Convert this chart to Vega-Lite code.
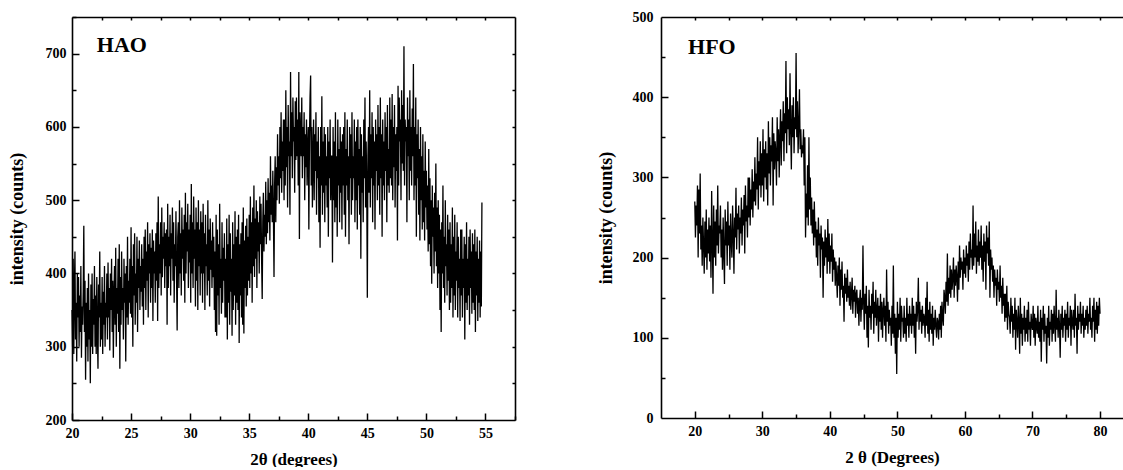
{
"$schema":"https://vega.github.io/schema/vega-lite/v6.json",
"background":"white",
"padding":{"left":8,"top":10,"right":0,"bottom":0},
"spacing":81,
"config":{"view":{"stroke":null},"font":"Liberation Serif",
"axis":{"grid":false,"labelFont":"Liberation Serif","labelFontWeight":"bold","labelFontSize":14,"labelColor":"black","titleFont":"Liberation Serif","titleFontWeight":"bold","titleFontSize":17,"titleColor":"black","domainColor":"black","domainWidth":1.6,"tickColor":"black","tickWidth":1.5,"labelFlush":false,"labelOverlap":false,"labelBound":false}},
"datasets":{
"hao":[
{"a":20,"i":350},{"a":20.05,"i":300},{"a":20.1,"i":420},{"a":20.15,"i":290},{"a":20.2,"i":380},{"a":20.25,"i":430},{"a":20.3,"i":310},{"a":20.35,"i":360},{"a":20.4,"i":280},{"a":20.45,"i":400},{"a":20.5,"i":340},{"a":20.55,"i":395},{"a":20.6,"i":300},{"a":20.65,"i":370},{"a":20.7,"i":320},{"a":20.75,"i":410},{"a":20.8,"i":285},{"a":20.85,"i":355},{"a":20.9,"i":330},{"a":20.95,"i":375},
{"a":21,"i":465},{"a":21.05,"i":320},{"a":21.1,"i":390},{"a":21.15,"i":255},{"a":21.2,"i":360},{"a":21.25,"i":300},{"a":21.3,"i":380},{"a":21.35,"i":280},{"a":21.4,"i":400},{"a":21.45,"i":310},{"a":21.5,"i":350},{"a":21.55,"i":250},{"a":21.6,"i":385},{"a":21.65,"i":300},{"a":21.7,"i":400},{"a":21.75,"i":290},{"a":21.8,"i":365},{"a":21.85,"i":330},{"a":21.9,"i":410},{"a":21.95,"i":300},
{"a":22,"i":370},{"a":22.05,"i":290},{"a":22.1,"i":395},{"a":22.15,"i":320},{"a":22.2,"i":270},{"a":22.25,"i":385},{"a":22.3,"i":340},{"a":22.35,"i":430},{"a":22.4,"i":300},{"a":22.45,"i":360},{"a":22.5,"i":310},{"a":22.55,"i":395},{"a":22.6,"i":290},{"a":22.65,"i":375},{"a":22.7,"i":330},{"a":22.75,"i":410},{"a":22.8,"i":300},{"a":22.85,"i":360},{"a":22.9,"i":340},{"a":22.95,"i":400},
{"a":23,"i":310},{"a":23.05,"i":415},{"a":23.1,"i":340},{"a":23.15,"i":380},{"a":23.2,"i":295},{"a":23.25,"i":400},{"a":23.3,"i":350},{"a":23.35,"i":420},{"a":23.4,"i":320},{"a":23.45,"i":390},{"a":23.5,"i":285},{"a":23.55,"i":370},{"a":23.6,"i":410},{"a":23.65,"i":330},{"a":23.7,"i":435},{"a":23.75,"i":300},{"a":23.8,"i":380},{"a":23.85,"i":345},{"a":23.9,"i":420},{"a":23.95,"i":320},
{"a":24,"i":440},{"a":24.05,"i":270},{"a":24.1,"i":395},{"a":24.15,"i":330},{"a":24.2,"i":430},{"a":24.25,"i":350},{"a":24.3,"i":380},{"a":24.35,"i":310},{"a":24.4,"i":420},{"a":24.45,"i":360},{"a":24.5,"i":400},{"a":24.55,"i":280},{"a":24.6,"i":410},{"a":24.65,"i":340},{"a":24.7,"i":450},{"a":24.75,"i":330},{"a":24.8,"i":390},{"a":24.85,"i":360},{"a":24.9,"i":420},{"a":24.95,"i":345},
{"a":25,"i":463},{"a":25.05,"i":340},{"a":25.1,"i":410},{"a":25.15,"i":300},{"a":25.2,"i":440},{"a":25.25,"i":370},{"a":25.3,"i":455},{"a":25.35,"i":330},{"a":25.4,"i":400},{"a":25.45,"i":360},{"a":25.5,"i":450},{"a":25.55,"i":320},{"a":25.6,"i":420},{"a":25.65,"i":380},{"a":25.7,"i":445},{"a":25.75,"i":350},{"a":25.8,"i":410},{"a":25.85,"i":375},{"a":25.9,"i":440},{"a":25.95,"i":355},
{"a":26,"i":420},{"a":26.05,"i":330},{"a":26.1,"i":450},{"a":26.15,"i":380},{"a":26.2,"i":460},{"a":26.25,"i":350},{"a":26.3,"i":430},{"a":26.35,"i":390},{"a":26.4,"i":470},{"a":26.45,"i":340},{"a":26.5,"i":440},{"a":26.55,"i":400},{"a":26.6,"i":455},{"a":26.65,"i":360},{"a":26.7,"i":435},{"a":26.75,"i":380},{"a":26.8,"i":460},{"a":26.85,"i":335},{"a":26.9,"i":445},{"a":26.95,"i":400},
{"a":27,"i":430},{"a":27.05,"i":360},{"a":27.1,"i":455},{"a":27.15,"i":390},{"a":27.2,"i":470},{"a":27.25,"i":335},{"a":27.3,"i":505},{"a":27.35,"i":380},{"a":27.4,"i":440},{"a":27.45,"i":400},{"a":27.5,"i":470},{"a":27.55,"i":370},{"a":27.6,"i":490},{"a":27.65,"i":395},{"a":27.7,"i":450},{"a":27.75,"i":420},{"a":27.8,"i":470},{"a":27.85,"i":380},{"a":27.9,"i":455},{"a":27.95,"i":410},
{"a":28,"i":460},{"a":28.05,"i":330},{"a":28.1,"i":495},{"a":28.15,"i":380},{"a":28.2,"i":450},{"a":28.25,"i":410},{"a":28.3,"i":480},{"a":28.35,"i":370},{"a":28.4,"i":455},{"a":28.45,"i":420},{"a":28.5,"i":490},{"a":28.55,"i":390},{"a":28.6,"i":470},{"a":28.65,"i":360},{"a":28.7,"i":440},{"a":28.75,"i":410},{"a":28.8,"i":485},{"a":28.85,"i":395},{"a":28.9,"i":322},{"a":28.95,"i":450},
{"a":29,"i":470},{"a":29.05,"i":380},{"a":29.1,"i":500},{"a":29.15,"i":400},{"a":29.2,"i":455},{"a":29.25,"i":370},{"a":29.3,"i":490},{"a":29.35,"i":420},{"a":29.4,"i":460},{"a":29.45,"i":390},{"a":29.5,"i":480},{"a":29.55,"i":360},{"a":29.6,"i":510},{"a":29.65,"i":400},{"a":29.7,"i":470},{"a":29.75,"i":430},{"a":29.8,"i":495},{"a":29.85,"i":380},{"a":29.9,"i":460},{"a":29.95,"i":415},
{"a":30,"i":480},{"a":30.05,"i":360},{"a":30.1,"i":522},{"a":30.15,"i":400},{"a":30.2,"i":470},{"a":30.25,"i":380},{"a":30.3,"i":505},{"a":30.35,"i":420},{"a":30.4,"i":460},{"a":30.45,"i":355},{"a":30.5,"i":490},{"a":30.55,"i":390},{"a":30.6,"i":470},{"a":30.65,"i":350},{"a":30.7,"i":500},{"a":30.75,"i":410},{"a":30.8,"i":460},{"a":30.85,"i":370},{"a":30.9,"i":485},{"a":30.95,"i":400},
{"a":31,"i":470},{"a":31.05,"i":360},{"a":31.1,"i":495},{"a":31.15,"i":400},{"a":31.2,"i":455},{"a":31.25,"i":350},{"a":31.3,"i":480},{"a":31.35,"i":410},{"a":31.4,"i":440},{"a":31.45,"i":370},{"a":31.5,"i":500},{"a":31.55,"i":390},{"a":31.6,"i":460},{"a":31.65,"i":355},{"a":31.7,"i":475},{"a":31.75,"i":405},{"a":31.8,"i":445},{"a":31.85,"i":380},{"a":31.9,"i":470},{"a":31.95,"i":395},
{"a":32,"i":450},{"a":32.05,"i":350},{"a":32.1,"i":430},{"a":32.15,"i":320},{"a":32.2,"i":480},{"a":32.25,"i":315},{"a":32.3,"i":460},{"a":32.35,"i":370},{"a":32.4,"i":440},{"a":32.45,"i":330},{"a":32.5,"i":495},{"a":32.55,"i":380},{"a":32.6,"i":420},{"a":32.65,"i":345},{"a":32.7,"i":470},{"a":32.75,"i":360},{"a":32.8,"i":435},{"a":32.85,"i":390},{"a":32.9,"i":455},{"a":32.95,"i":340},
{"a":33,"i":420},{"a":33.05,"i":340},{"a":33.1,"i":475},{"a":33.15,"i":310},{"a":33.2,"i":440},{"a":33.25,"i":360},{"a":33.3,"i":480},{"a":33.35,"i":330},{"a":33.4,"i":455},{"a":33.45,"i":375},{"a":33.5,"i":420},{"a":33.55,"i":315},{"a":33.6,"i":470},{"a":33.65,"i":350},{"a":33.7,"i":440},{"a":33.75,"i":370},{"a":33.8,"i":485},{"a":33.85,"i":330},{"a":33.9,"i":450},{"a":33.95,"i":360},
{"a":34,"i":460},{"a":34.05,"i":350},{"a":34.1,"i":480},{"a":34.15,"i":305},{"a":34.2,"i":440},{"a":34.25,"i":370},{"a":34.3,"i":455},{"a":34.35,"i":340},{"a":34.4,"i":470},{"a":34.45,"i":330},{"a":34.5,"i":490},{"a":34.55,"i":318},{"a":34.6,"i":445},{"a":34.65,"i":380},{"a":34.7,"i":465},{"a":34.75,"i":355},{"a":34.8,"i":475},{"a":34.85,"i":370},{"a":34.9,"i":450},{"a":34.95,"i":390},
{"a":35,"i":480},{"a":35.05,"i":380},{"a":35.1,"i":505},{"a":35.15,"i":400},{"a":35.2,"i":470},{"a":35.25,"i":360},{"a":35.3,"i":490},{"a":35.35,"i":410},{"a":35.4,"i":520},{"a":35.45,"i":395},{"a":35.5,"i":475},{"a":35.55,"i":420},{"a":35.6,"i":500},{"a":35.65,"i":380},{"a":35.7,"i":485},{"a":35.75,"i":430},{"a":35.8,"i":470},{"a":35.85,"i":400},{"a":35.9,"i":505},{"a":35.95,"i":440},
{"a":36,"i":495},{"a":36.05,"i":420},{"a":36.1,"i":365},{"a":36.15,"i":470},{"a":36.2,"i":510},{"a":36.25,"i":430},{"a":36.3,"i":480},{"a":36.35,"i":450},{"a":36.4,"i":525},{"a":36.45,"i":440},{"a":36.5,"i":500},{"a":36.55,"i":455},{"a":36.6,"i":530},{"a":36.65,"i":470},{"a":36.7,"i":510},{"a":36.75,"i":445},{"a":36.8,"i":560},{"a":36.85,"i":480},{"a":36.9,"i":520},{"a":36.95,"i":470},
{"a":37,"i":540},{"a":37.05,"i":480},{"a":37.1,"i":395},{"a":37.15,"i":520},{"a":37.2,"i":560},{"a":37.25,"i":470},{"a":37.3,"i":545},{"a":37.35,"i":500},{"a":37.4,"i":590},{"a":37.45,"i":520},{"a":37.5,"i":560},{"a":37.55,"i":495},{"a":37.6,"i":600},{"a":37.65,"i":530},{"a":37.7,"i":620},{"a":37.75,"i":510},{"a":37.8,"i":580},{"a":37.85,"i":540},{"a":37.9,"i":610},{"a":37.95,"i":500},
{"a":38,"i":610},{"a":38.05,"i":520},{"a":38.1,"i":650},{"a":38.15,"i":545},{"a":38.2,"i":600},{"a":38.25,"i":490},{"a":38.3,"i":630},{"a":38.35,"i":560},{"a":38.4,"i":580},{"a":38.45,"i":480},{"a":38.5,"i":675},{"a":38.55,"i":560},{"a":38.6,"i":620},{"a":38.65,"i":530},{"a":38.7,"i":640},{"a":38.75,"i":580},{"a":38.8,"i":600},{"a":38.85,"i":510},{"a":38.9,"i":635},{"a":38.95,"i":555},
{"a":39,"i":640},{"a":39.05,"i":560},{"a":39.1,"i":610},{"a":39.15,"i":520},{"a":39.2,"i":675},{"a":39.25,"i":447},{"a":39.3,"i":620},{"a":39.35,"i":590},{"a":39.4,"i":560},{"a":39.45,"i":640},{"a":39.5,"i":530},{"a":39.55,"i":600},{"a":39.6,"i":560},{"a":39.65,"i":620},{"a":39.7,"i":500},{"a":39.75,"i":590},{"a":39.8,"i":545},{"a":39.85,"i":610},{"a":39.9,"i":520},{"a":39.95,"i":570},
{"a":40,"i":600},{"a":40.05,"i":460},{"a":40.1,"i":580},{"a":40.15,"i":640},{"a":40.2,"i":670},{"a":40.25,"i":520},{"a":40.3,"i":600},{"a":40.35,"i":490},{"a":40.4,"i":560},{"a":40.45,"i":610},{"a":40.5,"i":500},{"a":40.55,"i":590},{"a":40.6,"i":540},{"a":40.65,"i":620},{"a":40.7,"i":480},{"a":40.75,"i":580},{"a":40.8,"i":530},{"a":40.85,"i":600},{"a":40.9,"i":470},{"a":40.95,"i":560},
{"a":41,"i":435},{"a":41.05,"i":600},{"a":41.1,"i":520},{"a":41.15,"i":642},{"a":41.2,"i":480},{"a":41.25,"i":580},{"a":41.3,"i":510},{"a":41.35,"i":600},{"a":41.4,"i":470},{"a":41.45,"i":590},{"a":41.5,"i":520},{"a":41.55,"i":560},{"a":41.6,"i":490},{"a":41.65,"i":600},{"a":41.7,"i":450},{"a":41.75,"i":580},{"a":41.8,"i":530},{"a":41.85,"i":610},{"a":41.9,"i":500},{"a":41.95,"i":560},
{"a":42,"i":560},{"a":42.05,"i":415},{"a":42.1,"i":600},{"a":42.15,"i":500},{"a":42.2,"i":580},{"a":42.25,"i":470},{"a":42.3,"i":620},{"a":42.35,"i":490},{"a":42.4,"i":560},{"a":42.45,"i":450},{"a":42.5,"i":610},{"a":42.55,"i":520},{"a":42.6,"i":570},{"a":42.65,"i":470},{"a":42.7,"i":600},{"a":42.75,"i":510},{"a":42.8,"i":580},{"a":42.85,"i":460},{"a":42.9,"i":590},{"a":42.95,"i":520},
{"a":43,"i":600},{"a":43.05,"i":480},{"a":43.1,"i":620},{"a":43.15,"i":450},{"a":43.2,"i":570},{"a":43.25,"i":520},{"a":43.3,"i":610},{"a":43.35,"i":500},{"a":43.4,"i":560},{"a":43.45,"i":440},{"a":43.5,"i":600},{"a":43.55,"i":530},{"a":43.6,"i":590},{"a":43.65,"i":480},{"a":43.7,"i":620},{"a":43.75,"i":500},{"a":43.8,"i":560},{"a":43.85,"i":530},{"a":43.9,"i":610},{"a":43.95,"i":470},
{"a":44,"i":580},{"a":44.05,"i":500},{"a":44.1,"i":600},{"a":44.15,"i":460},{"a":44.2,"i":610},{"a":44.25,"i":520},{"a":44.3,"i":570},{"a":44.35,"i":480},{"a":44.4,"i":600},{"a":44.45,"i":420},{"a":44.5,"i":590},{"a":44.55,"i":510},{"a":44.6,"i":560},{"a":44.65,"i":470},{"a":44.7,"i":610},{"a":44.75,"i":530},{"a":44.8,"i":640},{"a":44.85,"i":490},{"a":44.9,"i":580},{"a":44.95,"i":520},
{"a":45,"i":367},{"a":45.05,"i":560},{"a":45.1,"i":600},{"a":45.15,"i":510},{"a":45.2,"i":650},{"a":45.25,"i":490},{"a":45.3,"i":590},{"a":45.35,"i":530},{"a":45.4,"i":620},{"a":45.45,"i":470},{"a":45.5,"i":600},{"a":45.55,"i":520},{"a":45.6,"i":580},{"a":45.65,"i":460},{"a":45.7,"i":610},{"a":45.75,"i":540},{"a":45.8,"i":590},{"a":45.85,"i":500},{"a":45.9,"i":630},{"a":45.95,"i":520},
{"a":46,"i":600},{"a":46.05,"i":480},{"a":46.1,"i":640},{"a":46.15,"i":530},{"a":46.2,"i":590},{"a":46.25,"i":450},{"a":46.3,"i":610},{"a":46.35,"i":520},{"a":46.4,"i":580},{"a":46.45,"i":500},{"a":46.5,"i":620},{"a":46.55,"i":540},{"a":46.6,"i":600},{"a":46.65,"i":470},{"a":46.7,"i":630},{"a":46.75,"i":520},{"a":46.8,"i":570},{"a":46.85,"i":510},{"a":46.9,"i":640},{"a":46.95,"i":530},
{"a":47,"i":610},{"a":47.05,"i":520},{"a":47.1,"i":645},{"a":47.15,"i":500},{"a":47.2,"i":600},{"a":47.25,"i":545},{"a":47.3,"i":630},{"a":47.35,"i":490},{"a":47.4,"i":590},{"a":47.45,"i":540},{"a":47.5,"i":600},{"a":47.55,"i":445},{"a":47.6,"i":656},{"a":47.65,"i":520},{"a":47.7,"i":640},{"a":47.75,"i":580},{"a":47.8,"i":610},{"a":47.85,"i":500},{"a":47.9,"i":650},{"a":47.95,"i":550},
{"a":48,"i":630},{"a":48.05,"i":540},{"a":48.1,"i":710},{"a":48.15,"i":520},{"a":48.2,"i":610},{"a":48.25,"i":580},{"a":48.3,"i":600},{"a":48.35,"i":470},{"a":48.4,"i":640},{"a":48.45,"i":560},{"a":48.5,"i":610},{"a":48.55,"i":500},{"a":48.6,"i":650},{"a":48.65,"i":540},{"a":48.7,"i":600},{"a":48.75,"i":520},{"a":48.8,"i":625},{"a":48.85,"i":560},{"a":48.9,"i":686},{"a":48.95,"i":500},
{"a":49,"i":600},{"a":49.05,"i":520},{"a":49.1,"i":640},{"a":49.15,"i":450},{"a":49.2,"i":590},{"a":49.25,"i":530},{"a":49.3,"i":610},{"a":49.35,"i":480},{"a":49.4,"i":570},{"a":49.45,"i":445},{"a":49.5,"i":600},{"a":49.55,"i":500},{"a":49.6,"i":560},{"a":49.65,"i":460},{"a":49.7,"i":590},{"a":49.75,"i":470},{"a":49.8,"i":540},{"a":49.85,"i":445},{"a":49.9,"i":580},{"a":49.95,"i":490},
{"a":50,"i":540},{"a":50.05,"i":460},{"a":50.1,"i":520},{"a":50.15,"i":430},{"a":50.2,"i":570},{"a":50.25,"i":440},{"a":50.3,"i":530},{"a":50.35,"i":410},{"a":50.4,"i":500},{"a":50.45,"i":386},{"a":50.5,"i":520},{"a":50.55,"i":450},{"a":50.6,"i":490},{"a":50.65,"i":400},{"a":50.7,"i":510},{"a":50.75,"i":430},{"a":50.8,"i":550},{"a":50.85,"i":410},{"a":50.9,"i":490},{"a":50.95,"i":380},
{"a":51,"i":500},{"a":51.05,"i":400},{"a":51.1,"i":480},{"a":51.15,"i":350},{"a":51.2,"i":460},{"a":51.25,"i":320},{"a":51.3,"i":470},{"a":51.35,"i":400},{"a":51.4,"i":520},{"a":51.45,"i":380},{"a":51.5,"i":450},{"a":51.55,"i":360},{"a":51.6,"i":500},{"a":51.65,"i":410},{"a":51.7,"i":440},{"a":51.75,"i":370},{"a":51.8,"i":480},{"a":51.85,"i":390},{"a":51.9,"i":460},{"a":51.95,"i":350},
{"a":52,"i":470},{"a":52.05,"i":360},{"a":52.1,"i":440},{"a":52.15,"i":380},{"a":52.2,"i":490},{"a":52.25,"i":340},{"a":52.3,"i":450},{"a":52.35,"i":370},{"a":52.4,"i":480},{"a":52.45,"i":350},{"a":52.5,"i":430},{"a":52.55,"i":390},{"a":52.6,"i":470},{"a":52.65,"i":340},{"a":52.7,"i":450},{"a":52.75,"i":380},{"a":52.8,"i":420},{"a":52.85,"i":335},{"a":52.9,"i":460},{"a":52.95,"i":370},
{"a":53,"i":460},{"a":53.05,"i":340},{"a":53.1,"i":420},{"a":53.15,"i":380},{"a":53.2,"i":450},{"a":53.25,"i":310},{"a":53.3,"i":440},{"a":53.35,"i":360},{"a":53.4,"i":470},{"a":53.45,"i":350},{"a":53.5,"i":420},{"a":53.55,"i":370},{"a":53.6,"i":450},{"a":53.65,"i":330},{"a":53.7,"i":460},{"a":53.75,"i":380},{"a":53.8,"i":430},{"a":53.85,"i":345},{"a":53.9,"i":455},{"a":53.95,"i":360},
{"a":54,"i":440},{"a":54.05,"i":350},{"a":54.1,"i":460},{"a":54.15,"i":320},{"a":54.2,"i":430},{"a":54.25,"i":370},{"a":54.3,"i":450},{"a":54.35,"i":335},{"a":54.4,"i":420},{"a":54.45,"i":360},{"a":54.5,"i":445},{"a":54.55,"i":340},{"a":54.6,"i":430},{"a":54.65,"i":355},{"a":54.7,"i":497}
],
"hfo":[
{"a":20,"i":270},{"a":20.1,"i":225},{"a":20.2,"i":265},{"a":20.3,"i":240},{"a":20.4,"i":290},{"a":20.5,"i":200},{"a":20.6,"i":285},{"a":20.7,"i":230},{"a":20.8,"i":305},{"a":20.9,"i":210},
{"a":21,"i":240},{"a":21.1,"i":190},{"a":21.2,"i":250},{"a":21.3,"i":215},{"a":21.4,"i":180},{"a":21.5,"i":245},{"a":21.6,"i":200},{"a":21.7,"i":260},{"a":21.8,"i":185},{"a":21.9,"i":235},
{"a":22,"i":205},{"a":22.1,"i":250},{"a":22.2,"i":195},{"a":22.3,"i":240},{"a":22.4,"i":175},{"a":22.5,"i":283},{"a":22.6,"i":220},{"a":22.7,"i":155},{"a":22.8,"i":265},{"a":22.9,"i":200},
{"a":23,"i":245},{"a":23.1,"i":190},{"a":23.2,"i":260},{"a":23.3,"i":215},{"a":23.4,"i":290},{"a":23.5,"i":205},{"a":23.6,"i":240},{"a":23.7,"i":230},{"a":23.8,"i":265},{"a":23.9,"i":200},
{"a":24,"i":235},{"a":24.1,"i":185},{"a":24.2,"i":250},{"a":24.3,"i":205},{"a":24.4,"i":167},{"a":24.5,"i":260},{"a":24.6,"i":215},{"a":24.7,"i":245},{"a":24.8,"i":190},{"a":24.9,"i":270},
{"a":25,"i":215},{"a":25.1,"i":240},{"a":25.2,"i":185},{"a":25.3,"i":255},{"a":25.4,"i":220},{"a":25.5,"i":200},{"a":25.6,"i":265},{"a":25.7,"i":230},{"a":25.8,"i":180},{"a":25.9,"i":250},
{"a":26,"i":225},{"a":26.1,"i":287},{"a":26.2,"i":210},{"a":26.3,"i":255},{"a":26.4,"i":235},{"a":26.5,"i":265},{"a":26.6,"i":205},{"a":26.7,"i":250},{"a":26.8,"i":230},{"a":26.9,"i":275},
{"a":27,"i":215},{"a":27.1,"i":260},{"a":27.2,"i":240},{"a":27.3,"i":278},{"a":27.4,"i":205},{"a":27.5,"i":290},{"a":27.6,"i":245},{"a":27.7,"i":265},{"a":27.8,"i":225},{"a":27.9,"i":300},
{"a":28,"i":250},{"a":28.1,"i":300},{"a":28.2,"i":240},{"a":28.3,"i":285},{"a":28.4,"i":260},{"a":28.5,"i":310},{"a":28.6,"i":250},{"a":28.7,"i":295},{"a":28.8,"i":270},{"a":28.9,"i":325},
{"a":29,"i":265},{"a":29.1,"i":305},{"a":29.2,"i":285},{"a":29.3,"i":350},{"a":29.4,"i":260},{"a":29.5,"i":320},{"a":29.6,"i":290},{"a":29.7,"i":345},{"a":29.8,"i":275},{"a":29.9,"i":330},
{"a":30,"i":290},{"a":30.1,"i":360},{"a":30.2,"i":270},{"a":30.3,"i":335},{"a":30.4,"i":300},{"a":30.5,"i":345},{"a":30.6,"i":285},{"a":30.7,"i":330},{"a":30.8,"i":265},{"a":30.9,"i":370},
{"a":31,"i":305},{"a":31.1,"i":350},{"a":31.2,"i":290},{"a":31.3,"i":340},{"a":31.4,"i":320},{"a":31.5,"i":375},{"a":31.6,"i":265},{"a":31.7,"i":355},{"a":31.8,"i":310},{"a":31.9,"i":345},
{"a":32,"i":330},{"a":32.1,"i":290},{"a":32.2,"i":375},{"a":32.3,"i":320},{"a":32.4,"i":360},{"a":32.5,"i":300},{"a":32.6,"i":350},{"a":32.7,"i":385},{"a":32.8,"i":315},{"a":32.9,"i":370},
{"a":33,"i":345},{"a":33.1,"i":395},{"a":33.2,"i":320},{"a":33.3,"i":380},{"a":33.4,"i":355},{"a":33.5,"i":445},{"a":33.6,"i":330},{"a":33.7,"i":400},{"a":33.8,"i":360},{"a":33.9,"i":385},
{"a":34,"i":340},{"a":34.1,"i":430},{"a":34.2,"i":360},{"a":34.3,"i":310},{"a":34.4,"i":390},{"a":34.5,"i":350},{"a":34.6,"i":400},{"a":34.7,"i":330},{"a":34.8,"i":375},{"a":34.9,"i":360},
{"a":35,"i":455},{"a":35.1,"i":350},{"a":35.2,"i":395},{"a":35.3,"i":330},{"a":35.4,"i":365},{"a":35.5,"i":410},{"a":35.6,"i":335},{"a":35.7,"i":360},{"a":35.8,"i":325},{"a":35.9,"i":340},
{"a":36,"i":330},{"a":36.1,"i":360},{"a":36.2,"i":290},{"a":36.3,"i":350},{"a":36.4,"i":225},{"a":36.5,"i":280},{"a":36.6,"i":250},{"a":36.7,"i":315},{"a":36.8,"i":240},{"a":36.9,"i":350},
{"a":37,"i":260},{"a":37.1,"i":300},{"a":37.2,"i":240},{"a":37.3,"i":275},{"a":37.4,"i":230},{"a":37.5,"i":260},{"a":37.6,"i":215},{"a":37.7,"i":270},{"a":37.8,"i":225},{"a":37.9,"i":245},
{"a":38,"i":200},{"a":38.1,"i":235},{"a":38.2,"i":190},{"a":38.3,"i":250},{"a":38.4,"i":215},{"a":38.5,"i":230},{"a":38.6,"i":175},{"a":38.7,"i":240},{"a":38.8,"i":210},{"a":38.9,"i":225},
{"a":39,"i":150},{"a":39.1,"i":220},{"a":39.2,"i":190},{"a":39.3,"i":235},{"a":39.4,"i":200},{"a":39.5,"i":225},{"a":39.6,"i":180},{"a":39.7,"i":248},{"a":39.8,"i":195},{"a":39.9,"i":230},
{"a":40,"i":180},{"a":40.1,"i":215},{"a":40.2,"i":195},{"a":40.3,"i":230},{"a":40.4,"i":170},{"a":40.5,"i":210},{"a":40.6,"i":185},{"a":40.7,"i":200},{"a":40.8,"i":165},{"a":40.9,"i":195},
{"a":41,"i":175},{"a":41.1,"i":150},{"a":41.2,"i":190},{"a":41.3,"i":165},{"a":41.4,"i":200},{"a":41.5,"i":140},{"a":41.6,"i":185},{"a":41.7,"i":160},{"a":41.8,"i":195},{"a":41.9,"i":150},
{"a":42,"i":165},{"a":42.1,"i":120},{"a":42.2,"i":180},{"a":42.3,"i":155},{"a":42.4,"i":175},{"a":42.5,"i":145},{"a":42.6,"i":185},{"a":42.7,"i":150},{"a":42.8,"i":165},{"a":42.9,"i":140},
{"a":43,"i":170},{"a":43.1,"i":135},{"a":43.2,"i":155},{"a":43.3,"i":175},{"a":43.4,"i":130},{"a":43.5,"i":160},{"a":43.6,"i":145},{"a":43.7,"i":165},{"a":43.8,"i":125},{"a":43.9,"i":155},
{"a":44,"i":160},{"a":44.1,"i":130},{"a":44.2,"i":150},{"a":44.3,"i":115},{"a":44.4,"i":145},{"a":44.5,"i":160},{"a":44.6,"i":120},{"a":44.7,"i":150},{"a":44.8,"i":135},{"a":44.9,"i":215},
{"a":45,"i":145},{"a":45.1,"i":110},{"a":45.2,"i":155},{"a":45.3,"i":130},{"a":45.4,"i":165},{"a":45.5,"i":100},{"a":45.6,"i":140},{"a":45.7,"i":88},{"a":45.8,"i":160},{"a":45.9,"i":125},
{"a":46,"i":140},{"a":46.1,"i":110},{"a":46.2,"i":155},{"a":46.3,"i":130},{"a":46.4,"i":170},{"a":46.5,"i":105},{"a":46.6,"i":145},{"a":46.7,"i":125},{"a":46.8,"i":160},{"a":46.9,"i":115},
{"a":47,"i":135},{"a":47.1,"i":150},{"a":47.2,"i":95},{"a":47.3,"i":140},{"a":47.4,"i":120},{"a":47.5,"i":155},{"a":47.6,"i":110},{"a":47.7,"i":145},{"a":47.8,"i":100},{"a":47.9,"i":135},
{"a":48,"i":150},{"a":48.1,"i":115},{"a":48.2,"i":140},{"a":48.3,"i":95},{"a":48.4,"i":185},{"a":48.5,"i":120},{"a":48.6,"i":145},{"a":48.7,"i":105},{"a":48.8,"i":135},{"a":48.9,"i":115},
{"a":49,"i":125},{"a":49.1,"i":90},{"a":49.2,"i":140},{"a":49.3,"i":105},{"a":49.4,"i":190},{"a":49.5,"i":100},{"a":49.6,"i":130},{"a":49.7,"i":80},{"a":49.8,"i":125},{"a":49.9,"i":55},
{"a":50,"i":145},{"a":50.1,"i":100},{"a":50.2,"i":130},{"a":50.3,"i":110},{"a":50.4,"i":150},{"a":50.5,"i":95},{"a":50.6,"i":140},{"a":50.7,"i":120},{"a":50.8,"i":125},{"a":50.9,"i":100},
{"a":51,"i":140},{"a":51.1,"i":105},{"a":51.2,"i":125},{"a":51.3,"i":95},{"a":51.4,"i":150},{"a":51.5,"i":115},{"a":51.6,"i":130},{"a":51.7,"i":100},{"a":51.8,"i":140},{"a":51.9,"i":115},
{"a":52,"i":130},{"a":52.1,"i":105},{"a":52.2,"i":150},{"a":52.3,"i":115},{"a":52.4,"i":140},{"a":52.5,"i":100},{"a":52.6,"i":130},{"a":52.7,"i":80},{"a":52.8,"i":145},{"a":52.9,"i":120},
{"a":53,"i":135},{"a":53.1,"i":175},{"a":53.2,"i":110},{"a":53.3,"i":145},{"a":53.4,"i":120},{"a":53.5,"i":135},{"a":53.6,"i":105},{"a":53.7,"i":140},{"a":53.8,"i":115},{"a":53.9,"i":130},
{"a":54,"i":125},{"a":54.1,"i":100},{"a":54.2,"i":150},{"a":54.3,"i":115},{"a":54.4,"i":170},{"a":54.5,"i":105},{"a":54.6,"i":135},{"a":54.7,"i":95},{"a":54.8,"i":145},{"a":54.9,"i":110},
{"a":55,"i":130},{"a":55.1,"i":105},{"a":55.2,"i":140},{"a":55.3,"i":90},{"a":55.4,"i":125},{"a":55.5,"i":110},{"a":55.6,"i":135},{"a":55.7,"i":115},{"a":55.8,"i":100},{"a":55.9,"i":125},
{"a":56,"i":120},{"a":56.1,"i":98},{"a":56.2,"i":130},{"a":56.3,"i":110},{"a":56.4,"i":140},{"a":56.5,"i":100},{"a":56.6,"i":145},{"a":56.7,"i":125},{"a":56.8,"i":115},{"a":56.9,"i":160},
{"a":57,"i":150},{"a":57.1,"i":130},{"a":57.2,"i":170},{"a":57.3,"i":145},{"a":57.4,"i":205},{"a":57.5,"i":140},{"a":57.6,"i":175},{"a":57.7,"i":155},{"a":57.8,"i":190},{"a":57.9,"i":150},
{"a":58,"i":185},{"a":58.1,"i":160},{"a":58.2,"i":175},{"a":58.3,"i":200},{"a":58.4,"i":150},{"a":58.5,"i":185},{"a":58.6,"i":165},{"a":58.7,"i":190},{"a":58.8,"i":175},{"a":58.9,"i":145},
{"a":59,"i":195},{"a":59.1,"i":160},{"a":59.2,"i":215},{"a":59.3,"i":175},{"a":59.4,"i":200},{"a":59.5,"i":185},{"a":59.6,"i":195},{"a":59.7,"i":160},{"a":59.8,"i":210},{"a":59.9,"i":180},
{"a":60,"i":200},{"a":60.1,"i":175},{"a":60.2,"i":215},{"a":60.3,"i":190},{"a":60.4,"i":205},{"a":60.5,"i":170},{"a":60.6,"i":220},{"a":60.7,"i":185},{"a":60.8,"i":230},{"a":60.9,"i":200},
{"a":61,"i":210},{"a":61.1,"i":185},{"a":61.2,"i":265},{"a":61.3,"i":190},{"a":61.4,"i":230},{"a":61.5,"i":200},{"a":61.6,"i":245},{"a":61.7,"i":180},{"a":61.8,"i":215},{"a":61.9,"i":195},
{"a":62,"i":235},{"a":62.1,"i":190},{"a":62.2,"i":220},{"a":62.3,"i":200},{"a":62.4,"i":240},{"a":62.5,"i":185},{"a":62.6,"i":215},{"a":62.7,"i":170},{"a":62.8,"i":230},{"a":62.9,"i":195},
{"a":63,"i":220},{"a":63.1,"i":160},{"a":63.2,"i":240},{"a":63.3,"i":205},{"a":63.4,"i":225},{"a":63.5,"i":190},{"a":63.6,"i":245},{"a":63.7,"i":150},{"a":63.8,"i":210},{"a":63.9,"i":185},
{"a":64,"i":200},{"a":64.1,"i":170},{"a":64.2,"i":190},{"a":64.3,"i":150},{"a":64.4,"i":185},{"a":64.5,"i":165},{"a":64.6,"i":175},{"a":64.7,"i":140},{"a":64.8,"i":185},{"a":64.9,"i":160},
{"a":65,"i":170},{"a":65.1,"i":145},{"a":65.2,"i":190},{"a":65.3,"i":150},{"a":65.4,"i":165},{"a":65.5,"i":130},{"a":65.6,"i":175},{"a":65.7,"i":140},{"a":65.8,"i":155},{"a":65.9,"i":120},
{"a":66,"i":155},{"a":66.1,"i":125},{"a":66.2,"i":165},{"a":66.3,"i":110},{"a":66.4,"i":145},{"a":66.5,"i":130},{"a":66.6,"i":125},{"a":66.7,"i":105},{"a":66.8,"i":150},{"a":66.9,"i":120},
{"a":67,"i":140},{"a":67.1,"i":100},{"a":67.2,"i":130},{"a":67.3,"i":110},{"a":67.4,"i":150},{"a":67.5,"i":85},{"a":67.6,"i":135},{"a":67.7,"i":120},{"a":67.8,"i":100},{"a":67.9,"i":140},
{"a":68,"i":120},{"a":68.1,"i":80},{"a":68.2,"i":150},{"a":68.3,"i":105},{"a":68.4,"i":130},{"a":68.5,"i":90},{"a":68.6,"i":125},{"a":68.7,"i":110},{"a":68.8,"i":140},{"a":68.9,"i":95},
{"a":69,"i":125},{"a":69.1,"i":105},{"a":69.2,"i":135},{"a":69.3,"i":95},{"a":69.4,"i":145},{"a":69.5,"i":110},{"a":69.6,"i":120},{"a":69.7,"i":90},{"a":69.8,"i":130},{"a":69.9,"i":115},
{"a":70,"i":110},{"a":70.1,"i":140},{"a":70.2,"i":100},{"a":70.3,"i":130},{"a":70.4,"i":90},{"a":70.5,"i":125},{"a":70.6,"i":115},{"a":70.7,"i":105},{"a":70.8,"i":140},{"a":70.9,"i":100},
{"a":71,"i":120},{"a":71.1,"i":95},{"a":71.2,"i":135},{"a":71.3,"i":70},{"a":71.4,"i":125},{"a":71.5,"i":110},{"a":71.6,"i":140},{"a":71.7,"i":95},{"a":71.8,"i":130},{"a":71.9,"i":105},
{"a":72,"i":115},{"a":72.1,"i":68},{"a":72.2,"i":125},{"a":72.3,"i":100},{"a":72.4,"i":140},{"a":72.5,"i":90},{"a":72.6,"i":120},{"a":72.7,"i":110},{"a":72.8,"i":135},{"a":72.9,"i":95},
{"a":73,"i":130},{"a":73.1,"i":105},{"a":73.2,"i":140},{"a":73.3,"i":115},{"a":73.4,"i":95},{"a":73.5,"i":160},{"a":73.6,"i":110},{"a":73.7,"i":125},{"a":73.8,"i":100},{"a":73.9,"i":135},
{"a":74,"i":115},{"a":74.1,"i":75},{"a":74.2,"i":130},{"a":74.3,"i":110},{"a":74.4,"i":140},{"a":74.5,"i":100},{"a":74.6,"i":125},{"a":74.7,"i":115},{"a":74.8,"i":135},{"a":74.9,"i":95},
{"a":75,"i":130},{"a":75.1,"i":110},{"a":75.2,"i":145},{"a":75.3,"i":100},{"a":75.4,"i":125},{"a":75.5,"i":115},{"a":75.6,"i":140},{"a":75.7,"i":90},{"a":75.8,"i":135},{"a":75.9,"i":120},
{"a":76,"i":110},{"a":76.1,"i":135},{"a":76.2,"i":100},{"a":76.3,"i":155},{"a":76.4,"i":115},{"a":76.5,"i":125},{"a":76.6,"i":80},{"a":76.7,"i":140},{"a":76.8,"i":110},{"a":76.9,"i":130},
{"a":77,"i":120},{"a":77.1,"i":145},{"a":77.2,"i":105},{"a":77.3,"i":130},{"a":77.4,"i":115},{"a":77.5,"i":140},{"a":77.6,"i":100},{"a":77.7,"i":125},{"a":77.8,"i":110},{"a":77.9,"i":135},
{"a":78,"i":115},{"a":78.1,"i":140},{"a":78.2,"i":105},{"a":78.3,"i":130},{"a":78.4,"i":120},{"a":78.5,"i":150},{"a":78.6,"i":110},{"a":78.7,"i":125},{"a":78.8,"i":100},{"a":78.9,"i":140},
{"a":79,"i":120},{"a":79.1,"i":150},{"a":79.2,"i":95},{"a":79.3,"i":135},{"a":79.4,"i":110},{"a":79.5,"i":145},{"a":79.6,"i":105},{"a":79.7,"i":140},{"a":79.8,"i":115},{"a":79.9,"i":150},
{"a":80,"i":130}
]},
"hconcat":[
{"width":443,"height":403,"data":{"name":"hao"},
"layer":[
{"mark":{"type":"line","color":"black","strokeWidth":1.3},
"encoding":{
"x":{"field":"a","type":"quantitative","scale":{"domain":[20,57.5],"nice":false,"zero":false},"axis":{"orient":"bottom","values":[20,25,30,35,40,45,50,55],"ticks":false,"title":"2θ (degrees)","labelPadding":6,"titlePadding":11}},
"y":{"field":"i","type":"quantitative","scale":{"domain":[200,750],"nice":false,"zero":false},"axis":{"orient":"left","values":[200,300,400,500,600,700],"ticks":false,"title":"intensity (counts)","titleFontSize":18,"labelPadding":6,"titlePadding":19}}}},
{"mark":{"type":"line","opacity":0},
"encoding":{
"x":{"field":"a","type":"quantitative","axis":{"orient":"bottom","offset":-7,"values":[20,25,30,35,40,45,50,55],"labels":false,"domain":false,"tickSize":7,"title":null}},
"y":{"field":"i","type":"quantitative","axis":{"orient":"left","offset":-7,"values":[200,300,400,500,600,700],"labels":false,"domain":false,"tickSize":7,"title":null}}}},
{"mark":{"type":"line","opacity":0},
"encoding":{
"x":{"field":"a","type":"quantitative","axis":{"orient":"bottom","offset":-4,"values":[22.5,27.5,32.5,37.5,42.5,47.5,52.5,57.5],"labels":false,"domain":false,"tickSize":4,"title":null}},
"y":{"field":"i","type":"quantitative","axis":{"orient":"left","offset":-4,"values":[250,350,450,550,650,750],"labels":false,"domain":false,"tickSize":4,"title":null}}}},
{"mark":{"type":"line","opacity":0},
"encoding":{
"x":{"field":"a","type":"quantitative","axis":{"orient":"top","values":[20],"labels":false,"ticks":false,"domain":true,"title":null}},
"y":{"field":"i","type":"quantitative","axis":{"orient":"right","values":[200],"labels":false,"ticks":false,"domain":true,"title":null}}}},
{"mark":{"type":"line","opacity":0},
"encoding":{
"x":{"field":"a","type":"quantitative","axis":{"orient":"top","offset":-3,"values":[22.5,25,27.5,30,32.5,35,37.5,40,42.5,45,47.5,50,52.5,55],"labels":false,"domain":false,"tickSize":3,"title":null}},
"y":{"field":"i","type":"quantitative","axis":{"orient":"right","offset":-3,"values":[250,300,350,400,450,500,550,600,650,700],"labels":false,"domain":false,"tickSize":3,"title":null}}}},
{"data":{"values":[{"a":22.1,"i":712,"t":"HAO"}]},
"mark":{"type":"text","align":"left","baseline":"middle","font":"Liberation Serif","fontWeight":"bold","fontSize":22,"color":"black"},
"encoding":{"x":{"field":"a","type":"quantitative","axis":null},"y":{"field":"i","type":"quantitative","axis":null},"text":{"field":"t"}}}
],
"resolve":{"axis":{"x":"independent","y":"independent"}}},
{"width":462,"height":401,"data":{"name":"hfo"},
"layer":[
{"mark":{"type":"line","color":"black","strokeWidth":1.3},
"encoding":{
"x":{"field":"a","type":"quantitative","scale":{"domain":[15,83.4],"nice":false,"zero":false},"axis":{"orient":"bottom","values":[20,30,40,50,60,70,80],"ticks":false,"title":"2 θ (Degrees)","labelPadding":6,"titlePadding":11}},
"y":{"field":"i","type":"quantitative","scale":{"domain":[0,500],"nice":false,"zero":false},"axis":{"orient":"left","values":[0,100,200,300,400,500],"ticks":false,"title":"intensity (counts)","titleFontSize":18,"labelPadding":8,"titlePadding":17}}}},
{"mark":{"type":"line","opacity":0},
"encoding":{
"x":{"field":"a","type":"quantitative","axis":{"orient":"bottom","offset":-7,"values":[20,30,40,50,60,70,80],"labels":false,"domain":false,"tickSize":7,"title":null}},
"y":{"field":"i","type":"quantitative","axis":{"orient":"left","offset":-7,"values":[100,200,300,400],"labels":false,"domain":false,"tickSize":7,"title":null}}}},
{"mark":{"type":"line","opacity":0},
"encoding":{
"x":{"field":"a","type":"quantitative","axis":{"orient":"bottom","offset":-4,"values":[25,35,45,55,65,75],"labels":false,"domain":false,"tickSize":4,"title":null}},
"y":{"field":"i","type":"quantitative","axis":{"orient":"left","offset":-4,"values":[50,150,250,350,450],"labels":false,"domain":false,"tickSize":4,"title":null}}}},
{"mark":{"type":"line","opacity":0},
"encoding":{
"x":{"field":"a","type":"quantitative","axis":{"orient":"top","values":[20],"labels":false,"ticks":false,"domain":true,"title":null}},
"y":{"field":"i","type":"quantitative","axis":null}}},
{"mark":{"type":"line","opacity":0},
"encoding":{
"x":{"field":"a","type":"quantitative","axis":{"orient":"top","offset":-3,"values":[20,25,30,35,40,45,50,55,60,65,70,75,80],"labels":false,"domain":false,"tickSize":3,"title":null}},
"y":{"field":"i","type":"quantitative","axis":null}}},
{"data":{"values":[{"a":19.0,"i":462,"t":"HFO"}]},
"mark":{"type":"text","align":"left","baseline":"middle","font":"Liberation Serif","fontWeight":"bold","fontSize":22,"color":"black"},
"encoding":{"x":{"field":"a","type":"quantitative","axis":null},"y":{"field":"i","type":"quantitative","axis":null},"text":{"field":"t"}}}
],
"resolve":{"axis":{"x":"independent","y":"independent"}}}
]
}
